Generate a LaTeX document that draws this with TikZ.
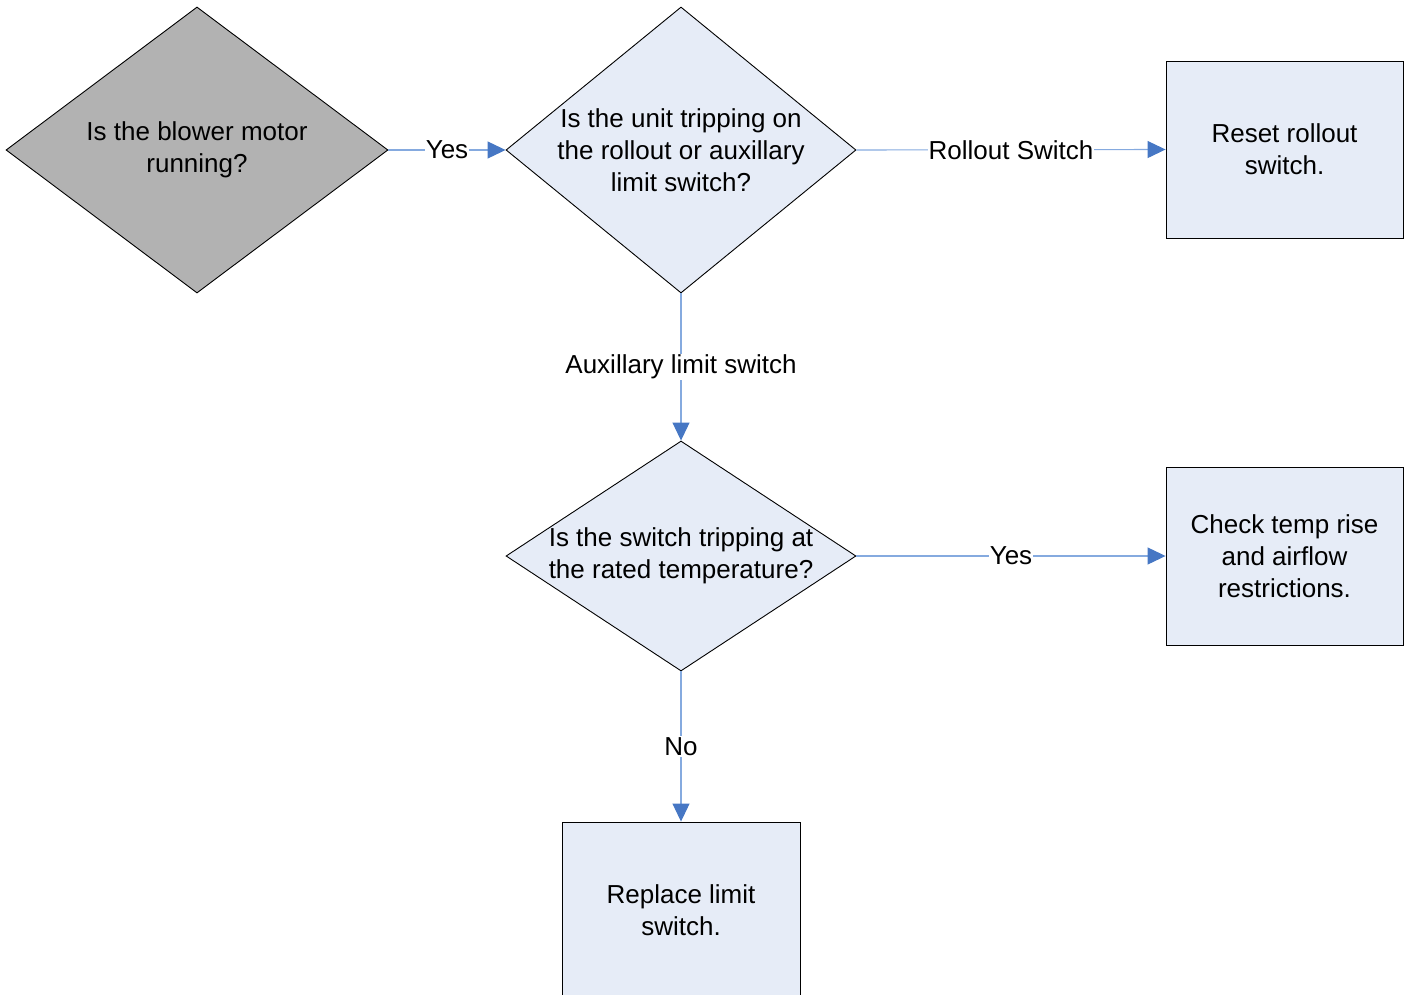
\documentclass[tikz,border=0pt]{standalone}
\usepackage{fontspec}
\setmainfont{Liberation Sans}
\usetikzlibrary{shapes.geometric,arrows.meta}
\definecolor{boxfill}{HTML}{E6ECF7}
\definecolor{grayfill}{HTML}{B2B2B2}
\definecolor{linkline}{HTML}{85AADF}
\definecolor{tipblue}{HTML}{4677C4}
\tikzset{
  dec/.style={diamond, draw=black, line width=0.9pt, inner sep=0pt, fill=boxfill},
  act/.style={rectangle, draw=black, line width=0.9pt, inner sep=0pt, fill=boxfill},
  txt/.style={align=center, font=\fontsize{26}{32}\selectfont, inner sep=0pt},
  link/.style={draw=linkline, line width=1.1pt, -{Triangle[length=18pt,width=17pt,fill=tipblue,color=tipblue]}},
  elab/.style={fill=white, inner sep=1pt, font=\fontsize{26}{32}\selectfont}
}
\begin{document}
\begin{tikzpicture}[x=1pt,y=-1pt]
\useasboundingbox (0,0) rectangle (1408,995);
\node[dec, fill=grayfill, minimum width=382pt, minimum height=286pt] (d1) at (197,150) {};
\node[txt] at (d1) {Is the blower motor\\running?};
\node[dec, minimum width=350pt, minimum height=286pt] (d2) at (681,150) {};
\node[txt] at (d2) {Is the unit tripping on\\the rollout or auxillary\\limit switch?};
\node[act, minimum width=237pt, minimum height=177pt] (b1) at (1284.5,149.5) {};
\node[txt] at (b1) {Reset rollout\\switch.};
\node[dec, minimum width=350pt, minimum height=230pt] (d3) at (681,556) {};
\node[txt] at (d3) {Is the switch tripping at\\the rated temperature?};
\node[act, minimum width=237pt, minimum height=178pt] (b2) at (1284.5,556) {};
\node[txt] at (b2) {Check temp rise\\and airflow\\restrictions.};
\node[act, minimum width=238pt, minimum height=176pt] (b3) at (681,910) {};
\node[txt] at (b3) {Replace limit\\switch.};
\draw[link] (d1.east) -- node[elab] {Yes} (d2.west);
\draw[link] (d2.east) -- node[elab] {Rollout Switch} (b1.west);
\draw[link] (d2.south) -- node[elab] {Auxillary limit switch} (d3.north);
\draw[link] (d3.east) -- node[elab] {Yes} (b2.west);
\draw[link] (d3.south) -- node[elab] {No} (b3.north);
\end{tikzpicture}
\end{document}
